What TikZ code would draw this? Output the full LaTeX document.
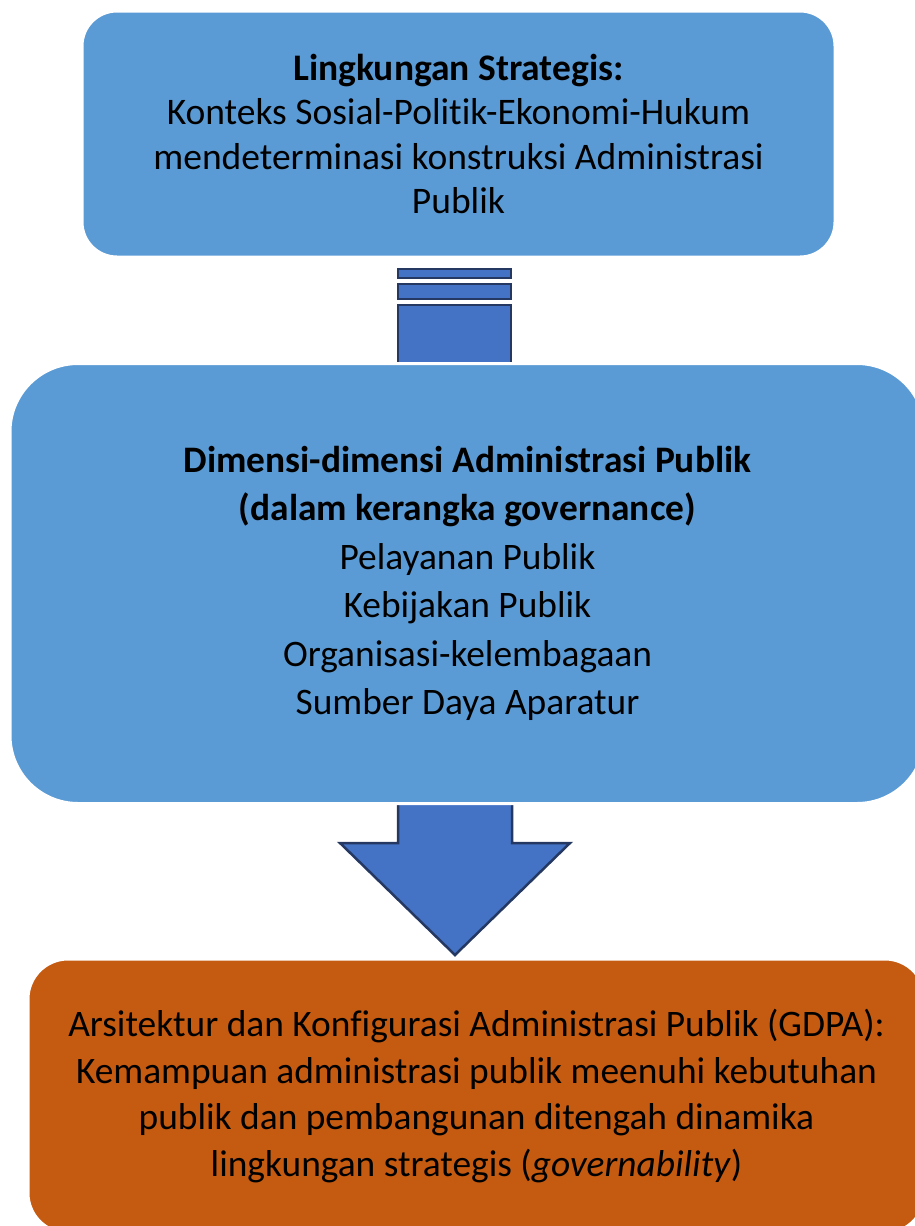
\documentclass[tikz,border=0pt]{standalone}
\usepackage{fontspec}
\setmainfont[Ligatures={NoCommon,NoContextual}]{Carlito}
\usetikzlibrary{positioning,backgrounds}
\definecolor{sky}{RGB}{91,155,213}
\definecolor{royal}{RGB}{68,114,196}
\definecolor{deepnavy}{RGB}{36,56,98}
\definecolor{rust}{RGB}{197,90,17}
\tikzset{
  panel/.style={fill=#1,draw=white,line width=3pt,align=center,inner sep=0pt,text=black},
  panel/.default=sky,
  band/.style={fill=royal,draw=deepnavy,line width=2.5pt},
}

\begin{document}
\begin{tikzpicture}[x=1pt,y=-1pt]
  \useasboundingbox (0,0) rectangle (915,1226);
  % three panels
  \node[panel,rounded corners=35pt,minimum width=753pt,minimum height=246pt,
    font=\fontsize{37.5}{44.5}\selectfont] (strat) at (458.5,134)
    {\textbf{Lingkungan Strategis:}\\Konteks Sosial-Politik-Ekonomi-Hukum\\
     mendeterminasi konstruksi Administrasi\\Publik};
  \node[panel,rounded corners=68pt,minimum width=915pt,minimum height=440pt,
    font=\fontsize{37.4}{48.5}\selectfont] (dimensi) at (467.5,583.5)
    {\textbf{Dimensi-dimensi Administrasi Publik}\\\textbf{(dalam kerangka governance)}\\
     Pelayanan Publik\\Kebijakan Publik\\Organisasi-kelembagaan\\Sumber Daya Aparatur};
  \node[panel=rust,rounded corners=40pt,minimum width=897pt,minimum height=274pt,
    font=\fontsize{37.4}{46.7}\selectfont] (arsitektur) at (476.5,1096)
    {Arsitektur dan Konfigurasi Administrasi Publik (GDPA):\\
     Kemampuan administrasi publik meenuhi kebutuhan\\
     publik dan pembangunan ditengah dinamika\\
     lingkungan strategis (\textit{governability})};
  % striped block between the first two panels
  \begin{scope}[on background layer]
    \draw[band] (398,269) rectangle (511,278);
    \draw[band] (398,284) rectangle (511,299);
    \draw[band] (398,305) rectangle (511,372);
    % down arrow
    \draw[band] (398,795) -- (398,843) -- (340,843) -- (455,955)
      -- (570,843) -- (512,843) -- (512,795) -- cycle;
  \end{scope}
\end{tikzpicture}
\end{document}
